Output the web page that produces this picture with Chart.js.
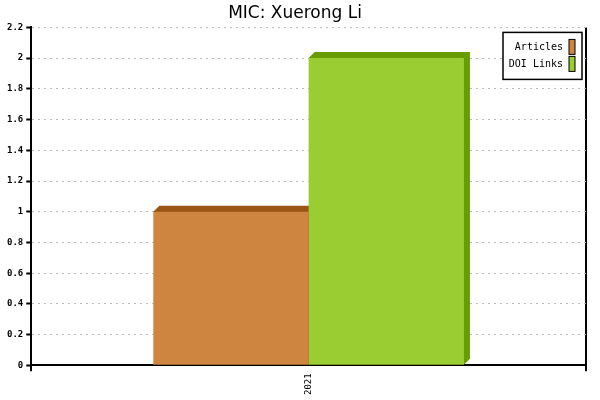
<!DOCTYPE html>
<html>
<head>
<meta charset="utf-8">
<script src="https://cdn.jsdelivr.net/npm/chart.js@4/dist/chart.umd.min.js"></script>
<style>
  html, body { margin: 0; padding: 0; background: #fff; }
  #wrap { width: 600px; height: 400px; }
</style>
</head>
<body>
<div id="wrap"><canvas id="chart" width="600" height="400"></canvas></div>
<script>
// data
const years = ["2021"];
const articles = [1];
const doiLinks = [2];
const yTicks = [0, 0.2, 0.4, 0.6, 0.8, 1, 1.2, 1.4, 1.6, 1.8, 2, 2.2];

const depth = 6;
const darker = { "#CD853F": "#9A5516", "#9ACD32": "#679C04" };

// fake 3d top / side faces, drawn behind the front faces
const bar3d = {
  id: "bar3d",
  beforeDatasetsDraw(chart) {
    const ctx = chart.ctx;
    chart.data.datasets.forEach((ds, i) => {
      const meta = chart.getDatasetMeta(i);
      meta.data.forEach(bar => {
        const p = bar.getProps(["x", "y", "base", "width"], true);
        const l = p.x - p.width / 2, r = p.x + p.width / 2;
        ctx.save();
        ctx.fillStyle = darker[ds.backgroundColor];
        ctx.beginPath();
        ctx.moveTo(l, p.y);
        ctx.lineTo(l + depth, p.y - depth);
        ctx.lineTo(r + depth, p.y - depth);
        ctx.lineTo(r + depth, p.base - depth);
        ctx.lineTo(r, p.base);
        ctx.closePath();
        ctx.fill();
        ctx.restore();
      });
    });
  }
};

// boxed legend in the top right corner, swatch on the right
const boxLegend = {
  id: "boxLegend",
  afterDraw(chart) {
    const ctx = chart.ctx, a = chart.chartArea;
    const w = 79, h = 47;
    const x = a.right - 4 - w, y = a.top + 5;
    ctx.save();
    ctx.fillStyle = "#fff";
    ctx.fillRect(x, y, w, h);
    ctx.strokeStyle = "#000";
    ctx.lineWidth = 1.5;
    ctx.strokeRect(x, y, w, h);
    ctx.font = "10px 'DejaVu Sans Mono'";
    ctx.textAlign = "right";
    ctx.textBaseline = "middle";
    chart.data.datasets.forEach((ds, i) => {
      const cy = y + 15 + i * 17;
      ctx.fillStyle = "#000";
      ctx.fillText(ds.label, x + 60, cy);
      ctx.fillStyle = ds.backgroundColor;
      ctx.fillRect(x + 66, cy - 8, 6, 15);
      ctx.lineWidth = 1;
      ctx.strokeRect(x + 66, cy - 8, 6, 15);
    });
    ctx.restore();
  }
};

new Chart(document.getElementById("chart"), {
  type: "bar",
  data: {
    labels: years,
    datasets: [
      { label: "Articles", data: articles, backgroundColor: "#CD853F" },
      { label: "DOI Links", data: doiLinks, backgroundColor: "#9ACD32" }
    ]
  },
  options: {
    responsive: false,
    animation: false,
    devicePixelRatio: 1,
    layout: { padding: { left: 4, right: 14, top: 0, bottom: 3 } },
    categoryPercentage: 0.56,
    barPercentage: 1,
    plugins: {
      legend: { display: false },
      tooltip: { enabled: false },
      title: {
        display: true,
        text: "MIC: Xuerong Li",
        color: "#000",
        font: { family: "'DejaVu Sans'", size: 17, weight: "normal" },
        padding: { top: 3, bottom: 4 }
      }
    },
    scales: {
      x: {
        offset: true,
        grid: { offset: true, color: "#000", lineWidth: 2, tickLength: 6, drawOnChartArea: true },
        border: { color: "#000", width: 2 },
        ticks: {
          minRotation: 90, maxRotation: 90, color: "#000", padding: 2,
          font: { family: "'DejaVu Sans Mono'", size: 9 }
        }
      },
      y: {
        min: 0,
        max: 2.2,
        afterBuildTicks: axis => { axis.ticks = yTicks.map(v => ({ value: v })); },
        grid: { color: "#bbb", lineWidth: 1, tickColor: "#000", tickLength: 5, tickWidth: 2 },
        border: { color: "#000", width: 2, dash: [2, 4] },
        ticks: {
          color: "#000", padding: 3,
          font: { family: "'DejaVu Sans Mono'", size: 9, weight: "bold" },
          callback: v => String(Math.round(v * 10) / 10)
        }
      }
    }
  },
  plugins: [bar3d, boxLegend]
});
</script>
</body>
</html>
